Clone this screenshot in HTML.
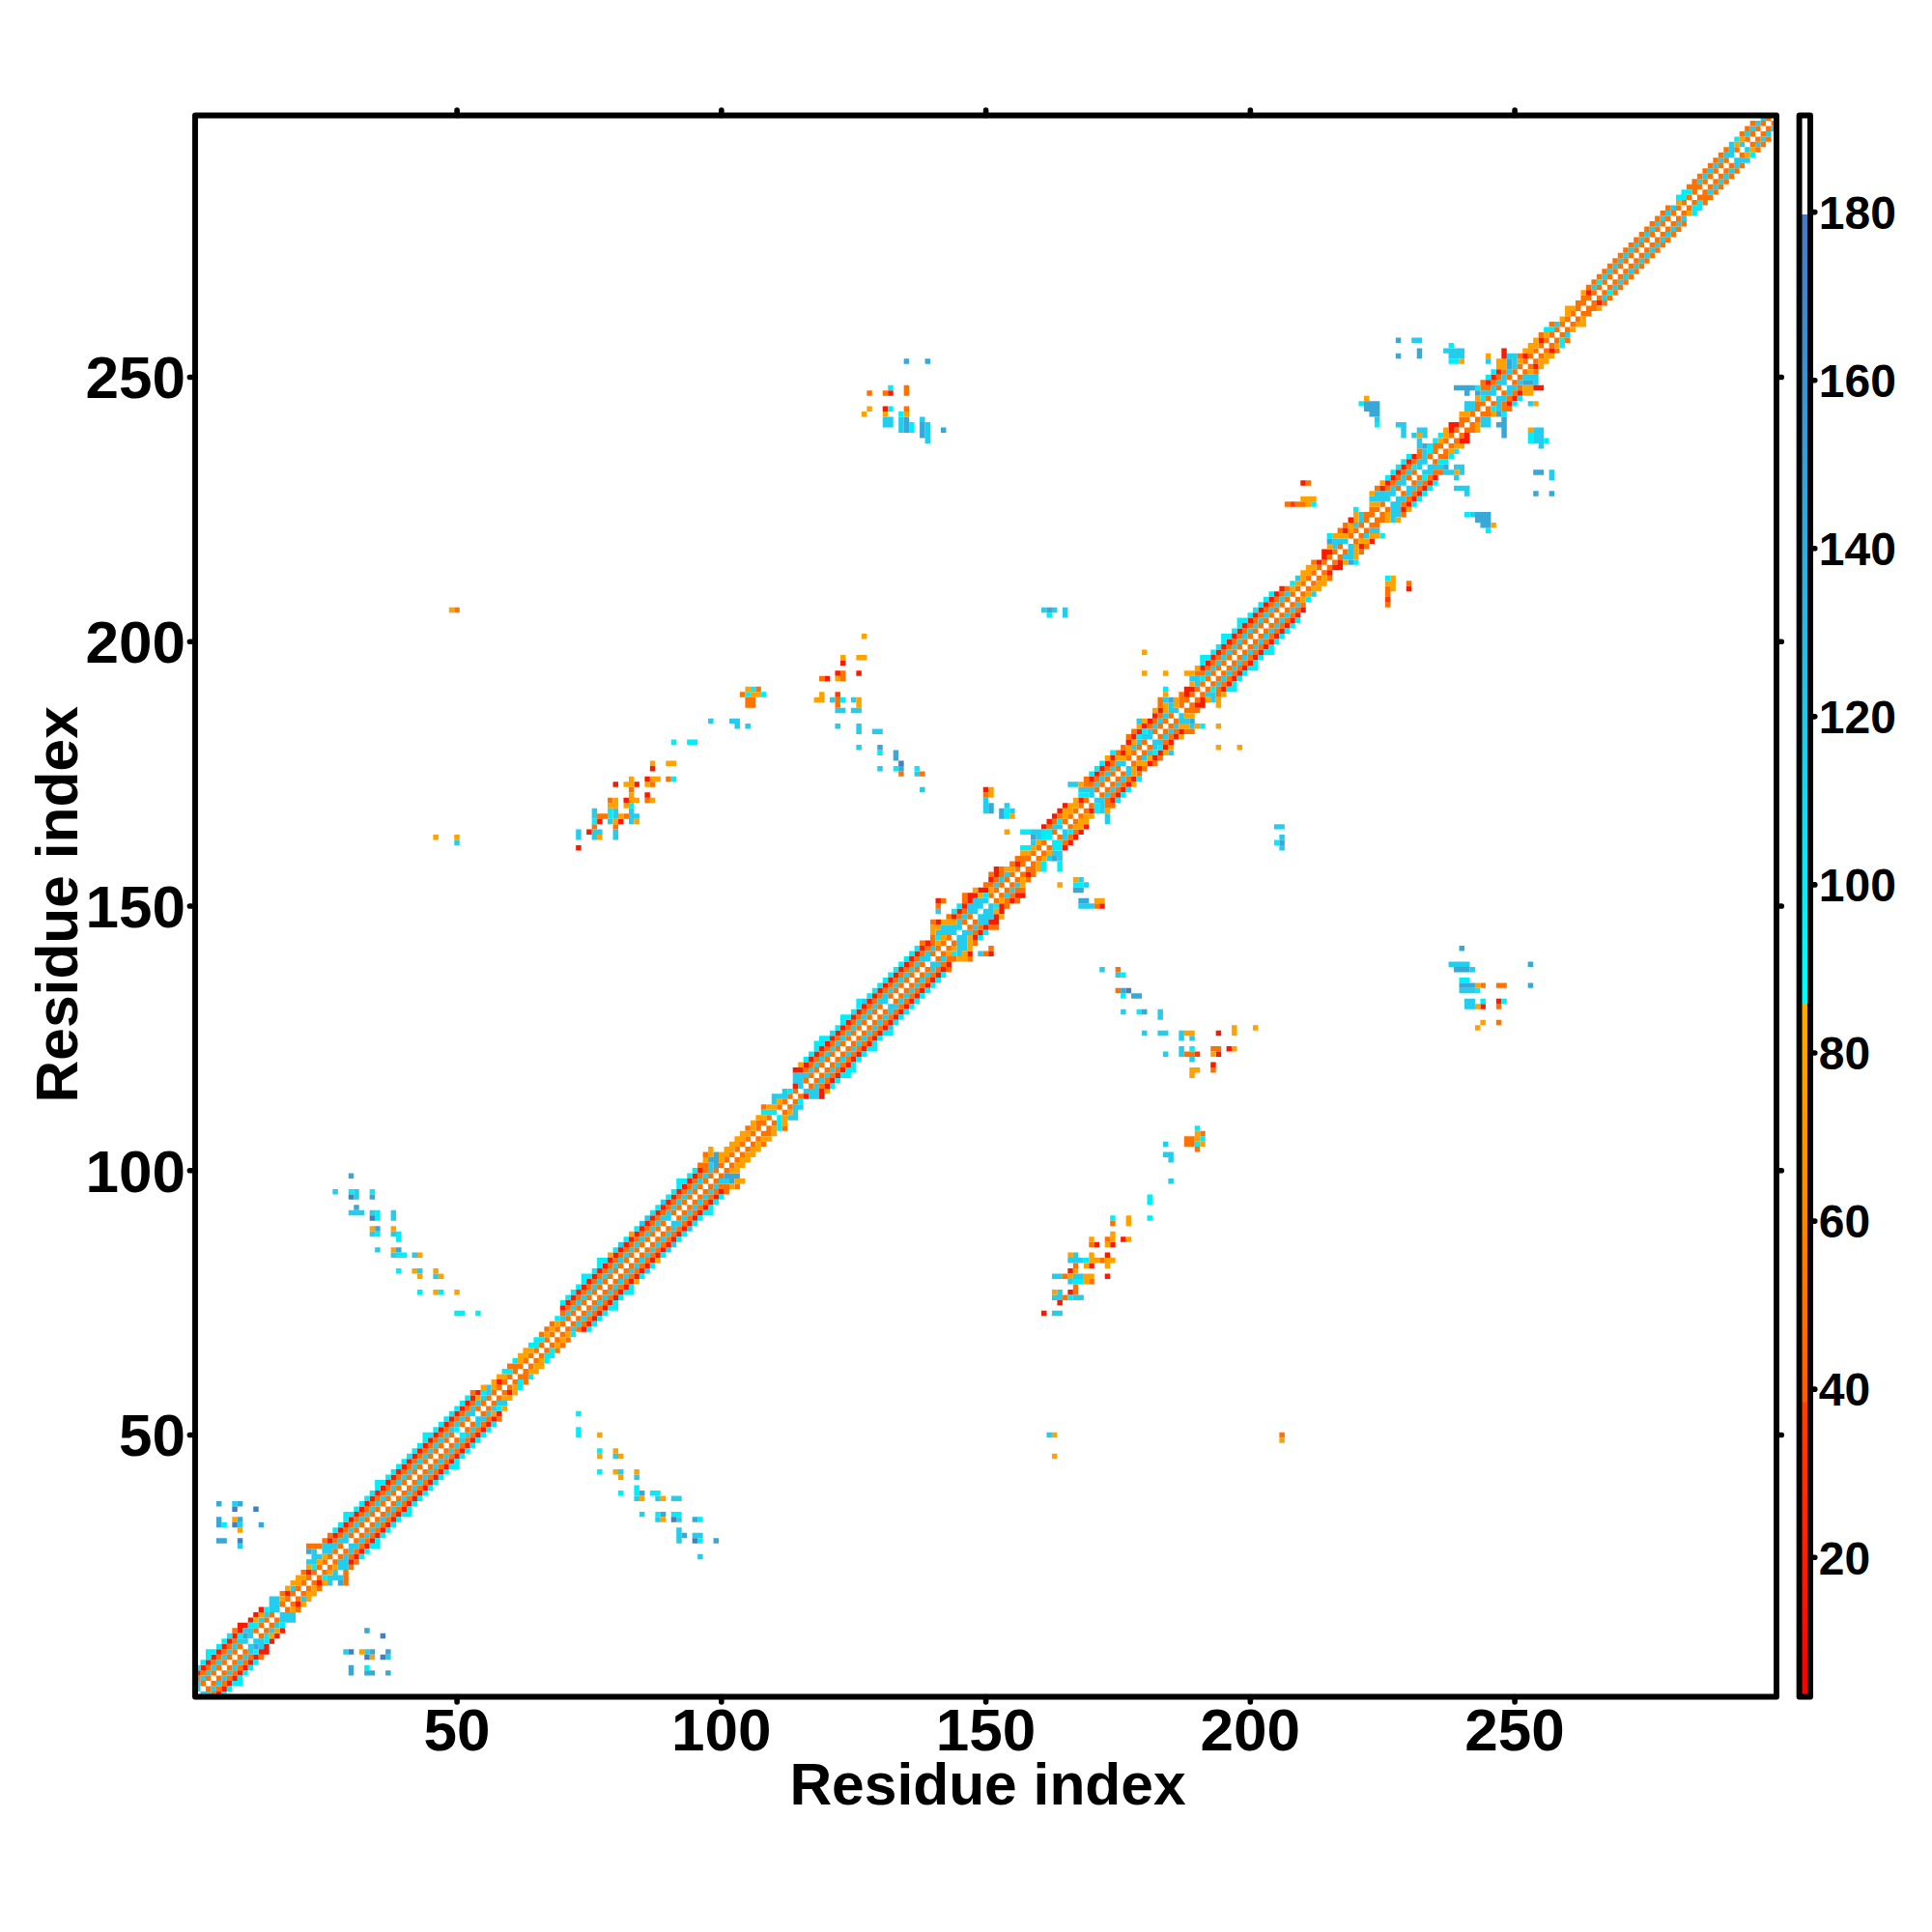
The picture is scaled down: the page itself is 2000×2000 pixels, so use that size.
<!DOCTYPE html><html><head><meta charset="utf-8"><style>html,body{margin:0;padding:0;background:#fff;overflow:hidden}svg{display:block}text{font-family:"Liberation Sans",sans-serif;font-weight:bold;fill:#000}</style></head><body>
<svg width="2000" height="2000" viewBox="0 0 2000 2000">
<rect width="2000" height="2000" fill="#fff"/>
<g transform="translate(202.000 1756.500) scale(5.4750 -5.4750)">
<path fill="#22cdee" d="M1 0h2v1h-2zM0 1h1v1h-1zM3 1h1v1h-1zM0 2h1v1h-1zM4 2h1v1h-1zM1 3h1v1h-1zM5 3h1v1h-1zM2 4h1v1h-1zM6 4h1v1h-1zM3 5h1v1h-1zM7 5h1v1h-1zM4 6h1v1h-1zM8 6h1v1h-1zM5 7h1v1h-1zM9 7h1v1h-1zM36 7h1v1h-1zM6 8h1v1h-1zM10 8h1v1h-1zM28 8h1v1h-1zM32 8h1v1h-1zM7 9h1v1h-1zM10 9h1v1h-1zM12 9h1v1h-1zM8 10h2v1h-2zM11 10h2v1h-2zM9 12h2v1h-2zM14 12h1v1h-1zM10 11h1v1h-1zM12 14h1v1h-1zM16 14h3v1h-3zM15 13h1v1h-1zM13 15h1v1h-1zM16 15h3v1h-3zM14 16h2v1h-2zM14 17h2v1h-2zM14 18h2v1h-2zM20 18h1v1h-1zM18 20h1v1h-1zM25 21h1v1h-1zM21 25h2v1h-2zM27 25h2v1h-2zM25 22h3v1h-3zM22 26h2v1h-2zM28 26h1v1h-1zM95 26h1v1h-1zM22 27h1v1h-1zM24 27h2v1h-2zM29 27h1v1h-1zM26 23h1v1h-1zM27 24h2v1h-2zM8 28h1v1h-1zM24 28h3v1h-3zM29 28h2v1h-2zM27 29h2v1h-2zM31 29h1v1h-1zM91 29h1v1h-1zM28 30h1v1h-1zM32 30h1v1h-1zM91 30h1v1h-1zM94 30h2v1h-2zM29 31h1v1h-1zM33 31h1v1h-1zM91 31h1v1h-1zM8 32h1v1h-1zM30 32h1v1h-1zM34 32h1v1h-1zM31 33h1v1h-1zM35 33h1v1h-1zM87 33h1v1h-1zM91 33h1v1h-1zM32 34h1v1h-1zM36 34h1v1h-1zM84 34h1v1h-1zM33 35h1v1h-1zM37 35h1v1h-1zM7 36h1v1h-1zM34 36h1v1h-1zM38 36h1v1h-1zM35 37h1v1h-1zM39 37h1v1h-1zM83 37h1v1h-1zM87 37h1v1h-1zM90 37h2v1h-2zM36 38h1v1h-1zM40 38h1v1h-1zM37 39h1v1h-1zM41 39h1v1h-1zM38 40h1v1h-1zM42 40h1v1h-1zM39 41h1v1h-1zM43 41h1v1h-1zM83 41h1v1h-1zM40 42h1v1h-1zM44 42h1v1h-1zM80 42h1v1h-1zM41 43h1v1h-1zM45 43h1v1h-1zM42 44h1v1h-1zM46 44h1v1h-1zM43 45h1v1h-1zM47 45h1v1h-1zM79 45h1v1h-1zM44 46h1v1h-1zM48 46h1v1h-1zM45 47h1v1h-1zM49 47h1v1h-1zM46 48h1v1h-1zM50 48h1v1h-1zM47 49h1v1h-1zM51 49h1v1h-1zM161 49h1v1h-1zM48 50h1v1h-1zM52 50h1v1h-1zM49 51h1v1h-1zM53 51h1v1h-1zM50 52h1v1h-1zM53 52h2v1h-2zM51 53h2v1h-2zM55 53h1v1h-1zM52 54h1v1h-1zM56 54h1v1h-1zM53 55h1v1h-1zM57 55h2v1h-2zM54 56h1v1h-1zM55 57h1v1h-1zM55 58h1v1h-1zM71 69h1v1h-1zM69 71h1v1h-1zM73 71h1v1h-1zM72 70h1v1h-1zM70 72h1v1h-1zM74 72h1v1h-1zM162 72h2v1h-2zM71 73h1v1h-1zM75 73h1v1h-1zM72 74h1v1h-1zM76 74h1v1h-1zM73 75h1v1h-1zM77 75h1v1h-1zM162 75h2v1h-2zM166 75h2v1h-2zM74 76h1v1h-1zM78 76h1v1h-1zM163 76h1v1h-1zM75 77h1v1h-1zM79 77h1v1h-1zM76 78h1v1h-1zM80 78h1v1h-1zM165 78h1v1h-1zM45 79h1v1h-1zM77 79h1v1h-1zM81 79h1v1h-1zM162 79h2v1h-2zM166 79h2v1h-2zM42 80h1v1h-1zM78 80h1v1h-1zM82 80h1v1h-1zM85 80h1v1h-1zM79 81h1v1h-1zM83 81h1v1h-1zM80 82h1v1h-1zM84 82h1v1h-1zM165 82h3v1h-3zM80 85h1v1h-1zM83 85h1v1h-1zM87 85h1v1h-1zM90 85h1v1h-1zM37 83h1v1h-1zM41 83h1v1h-1zM81 83h1v1h-1zM85 83h1v1h-1zM166 83h1v1h-1zM34 84h1v1h-1zM82 84h1v1h-1zM86 84h1v1h-1zM89 84h1v1h-1zM84 86h1v1h-1zM88 86h1v1h-1zM84 89h1v1h-1zM87 89h1v1h-1zM90 89h2v1h-2zM33 87h1v1h-1zM37 87h1v1h-1zM85 87h1v1h-1zM89 87h1v1h-1zM37 90h1v1h-1zM85 90h1v1h-1zM88 90h2v1h-2zM92 90h1v1h-1zM86 88h1v1h-1zM90 88h1v1h-1zM93 88h1v1h-1zM88 93h1v1h-1zM91 93h1v1h-1zM95 93h1v1h-1zM29 91h3v1h-3zM33 91h1v1h-1zM37 91h1v1h-1zM89 91h1v1h-1zM93 91h1v1h-1zM90 92h1v1h-1zM94 92h1v1h-1zM30 94h1v1h-1zM92 94h1v1h-1zM96 94h1v1h-1zM26 95h1v1h-1zM30 95h1v1h-1zM93 95h1v1h-1zM97 95h1v1h-1zM94 96h1v1h-1zM98 96h1v1h-1zM95 97h1v1h-1zM99 97h2v1h-2zM184 97h1v1h-1zM96 98h1v1h-1zM97 99h1v1h-1zM97 100h1v1h-1zM112 109h2v1h-2zM109 112h1v1h-1zM109 113h3v1h-3zM116 113h2v1h-2zM113 110h1v1h-1zM113 111h2v1h-2zM111 114h1v1h-1zM115 114h3v1h-3zM113 116h2v1h-2zM118 116h1v1h-1zM113 117h3v1h-3zM119 117h1v1h-1zM114 115h1v1h-1zM117 115h1v1h-1zM116 118h1v1h-1zM120 118h1v1h-1zM117 119h1v1h-1zM121 119h1v1h-1zM118 120h1v1h-1zM122 120h1v1h-1zM188 120h1v1h-1zM119 121h1v1h-1zM123 121h1v1h-1zM183 121h1v1h-1zM186 121h1v1h-1zM120 122h1v1h-1zM124 122h1v1h-1zM186 122h1v1h-1zM121 123h1v1h-1zM125 123h1v1h-1zM122 124h1v1h-1zM126 124h1v1h-1zM186 124h1v1h-1zM188 124h1v1h-1zM123 125h1v1h-1zM127 125h1v1h-1zM179 125h1v1h-1zM182 125h2v1h-2zM186 125h1v1h-1zM124 126h1v1h-1zM128 126h1v1h-1zM131 126h1v1h-1zM125 127h1v1h-1zM129 127h1v1h-1zM126 128h1v1h-1zM130 128h1v1h-1zM182 128h1v1h-1zM126 131h1v1h-1zM129 131h2v1h-2zM133 131h1v1h-1zM240 131h2v1h-2zM127 129h1v1h-1zM131 129h1v1h-1zM175 129h1v1h-1zM182 129h1v1h-1zM128 130h1v1h-1zM131 130h2v1h-2zM240 130h2v1h-2zM130 132h1v1h-1zM134 132h1v1h-1zM131 133h1v1h-1zM135 133h1v1h-1zM239 133h3v1h-3zM132 134h1v1h-1zM136 134h1v1h-1zM133 135h1v1h-1zM137 135h1v1h-1zM134 136h1v1h-1zM138 136h1v1h-1zM174 136h1v1h-1zM135 137h1v1h-1zM139 137h1v1h-1zM171 137h1v1h-1zM241 137h1v1h-1zM136 138h1v1h-1zM139 138h2v1h-2zM237 138h4v1h-4zM137 139h2v1h-2zM141 139h1v1h-1zM138 140h1v1h-1zM144 140h1v1h-1zM148 140h1v1h-1zM139 141h1v1h-1zM144 141h2v1h-2zM140 144h4v1h-4zM145 144h2v1h-2zM140 148h1v1h-1zM146 148h2v1h-2zM149 148h2v1h-2zM141 145h4v1h-4zM147 145h1v1h-1zM144 142h2v1h-2zM144 143h2v1h-2zM144 146h1v1h-1zM148 146h2v1h-2zM145 147h1v1h-1zM148 147h3v1h-3zM146 149h3v1h-3zM150 149h1v1h-1zM167 149h3v1h-3zM147 150h3v1h-3zM153 151h1v1h-1zM151 153h1v1h-1zM155 153h1v1h-1zM168 153h1v1h-1zM154 152h1v1h-1zM152 154h1v1h-1zM167 154h1v1h-1zM153 155h1v1h-1zM161 158h1v1h-1zM163 158h1v1h-1zM49 161h1v1h-1zM158 161h1v1h-1zM72 163h1v1h-1zM75 163h2v1h-2zM79 163h1v1h-1zM158 163h2v1h-2zM164 163h1v1h-1zM162 159h2v1h-2zM72 162h1v1h-1zM75 162h1v1h-1zM79 162h1v1h-1zM159 162h1v1h-1zM164 162h1v1h-1zM205 162h1v1h-1zM162 164h2v1h-2zM204 164h2v1h-2zM75 167h1v1h-1zM79 167h1v1h-1zM82 167h1v1h-1zM149 167h1v1h-1zM154 167h1v1h-1zM171 167h1v1h-1zM137 171h1v1h-1zM167 171h3v1h-3zM173 171h1v1h-1zM149 168h1v1h-1zM153 168h1v1h-1zM171 168h1v1h-1zM149 169h1v1h-1zM170 169h2v1h-2zM169 170h1v1h-1zM172 170h1v1h-1zM165 172h2v1h-2zM170 172h1v1h-1zM174 172h1v1h-1zM171 173h1v1h-1zM175 173h1v1h-1zM136 174h1v1h-1zM172 174h1v1h-1zM176 174h1v1h-1zM129 175h1v1h-1zM173 175h1v1h-1zM176 175h1v1h-1zM174 176h2v1h-2zM179 177h1v1h-1zM125 179h1v1h-1zM177 179h1v1h-1zM181 179h1v1h-1zM180 178h1v1h-1zM184 178h1v1h-1zM178 180h1v1h-1zM181 180h2v1h-2zM97 184h1v1h-1zM101 184h2v1h-2zM178 184h1v1h-1zM182 184h1v1h-1zM186 184h2v1h-2zM179 181h2v1h-2zM183 181h1v1h-1zM125 182h1v1h-1zM128 182h2v1h-2zM180 182h1v1h-1zM184 182h1v1h-1zM102 183h1v1h-1zM104 183h1v1h-1zM121 183h1v1h-1zM125 183h1v1h-1zM181 183h1v1h-1zM185 183h1v1h-1zM188 183h1v1h-1zM183 185h1v1h-1zM186 185h1v1h-1zM120 188h1v1h-1zM124 188h1v1h-1zM183 188h1v1h-1zM192 188h1v1h-1zM121 186h2v1h-2zM124 186h2v1h-2zM184 186h2v1h-2zM184 187h1v1h-1zM188 192h2v1h-2zM194 192h1v1h-1zM191 189h2v1h-2zM189 191h1v1h-1zM193 191h1v1h-1zM191 193h1v1h-1zM195 193h1v1h-1zM192 194h1v1h-1zM196 194h1v1h-1zM193 195h1v1h-1zM197 195h1v1h-1zM194 196h1v1h-1zM198 196h1v1h-1zM195 197h1v1h-1zM199 197h1v1h-1zM196 198h1v1h-1zM200 198h1v1h-1zM197 199h1v1h-1zM201 199h1v1h-1zM198 200h1v1h-1zM202 200h1v1h-1zM199 201h1v1h-1zM203 201h1v1h-1zM200 202h1v1h-1zM204 202h1v1h-1zM201 203h1v1h-1zM205 203h1v1h-1zM164 204h1v1h-1zM202 204h1v1h-1zM206 204h1v1h-1zM160 205h1v1h-1zM162 205h1v1h-1zM164 205h1v1h-1zM203 205h1v1h-1zM207 205h1v1h-1zM204 206h1v1h-1zM208 206h1v1h-1zM205 207h1v1h-1zM206 208h1v1h-1zM211 208h1v1h-1zM208 211h1v1h-1zM217 215h2v1h-2zM215 217h1v1h-1zM218 217h1v1h-1zM215 218h3v1h-3zM218 216h1v1h-1zM221 219h1v1h-1zM219 221h1v1h-1zM222 220h2v1h-2zM220 222h1v1h-1zM226 222h1v1h-1zM220 223h1v1h-1zM226 223h2v1h-2zM241 223h1v1h-1zM222 226h4v1h-4zM227 226h2v1h-2zM223 227h4v1h-4zM229 227h1v1h-1zM240 227h1v1h-1zM226 224h2v1h-2zM226 225h2v1h-2zM226 228h1v1h-1zM229 228h2v1h-2zM238 228h3v1h-3zM227 229h2v1h-2zM231 229h1v1h-1zM228 230h1v1h-1zM238 230h1v1h-1zM256 230h1v1h-1zM229 231h1v1h-1zM232 231h2v1h-2zM236 231h2v1h-2zM239 231h1v1h-1zM256 231h1v1h-1zM138 238h1v1h-1zM228 238h1v1h-1zM230 238h1v1h-1zM232 238h1v1h-1zM253 238h2v1h-2zM231 232h1v1h-1zM233 232h3v1h-3zM238 232h2v1h-2zM231 233h2v1h-2zM231 236h1v1h-1zM254 236h1v1h-1zM138 237h1v1h-1zM231 237h1v1h-1zM253 237h2v1h-2zM133 239h1v1h-1zM138 239h1v1h-1zM228 239h1v1h-1zM231 239h2v1h-2zM253 239h2v1h-2zM232 234h1v1h-1zM232 235h1v1h-1zM130 240h2v1h-2zM133 240h1v1h-1zM138 240h1v1h-1zM227 240h2v1h-2zM243 240h2v1h-2zM240 243h2v1h-2zM246 243h1v1h-1zM240 244h2v1h-2zM246 244h1v1h-1zM252 244h1v1h-1zM130 241h2v1h-2zM133 241h1v1h-1zM137 241h1v1h-1zM223 241h1v1h-1zM243 241h2v1h-2zM243 246h3v1h-3zM248 246h1v1h-1zM244 252h1v1h-1zM249 252h1v1h-1zM246 245h2v1h-2zM245 247h1v1h-1zM248 247h2v1h-2zM246 248h2v1h-2zM250 248h1v1h-1zM253 248h1v1h-1zM247 249h1v1h-1zM251 249h3v1h-3zM248 250h1v1h-1zM237 253h3v1h-3zM248 253h2v1h-2zM249 251h1v1h-1zM259 257h1v1h-1zM257 259h1v1h-1zM266 264h1v1h-1zM264 266h1v1h-1zM268 266h1v1h-1zM266 268h1v1h-1zM270 268h1v1h-1zM269 267h1v1h-1zM267 269h1v1h-1zM271 269h1v1h-1zM268 270h1v1h-1zM272 270h1v1h-1zM269 271h1v1h-1zM273 271h1v1h-1zM270 272h1v1h-1zM274 272h1v1h-1zM271 273h1v1h-1zM275 273h1v1h-1zM272 274h1v1h-1zM276 274h1v1h-1zM273 275h1v1h-1zM277 275h1v1h-1zM274 276h1v1h-1zM278 276h1v1h-1zM275 277h1v1h-1zM279 277h1v1h-1zM276 278h1v1h-1zM280 278h1v1h-1zM277 279h1v1h-1zM281 279h1v1h-1zM278 280h1v1h-1zM279 281h1v1h-1zM286 284h1v1h-1zM284 286h1v1h-1zM288 286h1v1h-1zM287 285h1v1h-1zM285 287h1v1h-1zM289 287h1v1h-1zM286 288h1v1h-1zM290 288h1v1h-1zM287 289h1v1h-1zM291 289h1v1h-1zM288 290h1v1h-1zM291 290h3v1h-3zM289 291h2v1h-2zM290 292h1v1h-1zM293 292h1v1h-1zM290 293h1v1h-1zM292 293h1v1h-1zM295 293h1v1h-1zM293 295h1v1h-1zM297 295h1v1h-1zM296 294h1v1h-1zM294 296h1v1h-1zM298 296h1v1h-1zM295 297h1v1h-1zM296 298h1v1h-1zM78 165h1v1h-1zM82 165h1v1h-1zM172 165h1v1h-1zM75 166h1v1h-1zM79 166h1v1h-1zM82 166h2v1h-2zM172 166h1v1h-1zM230 256h2v1h-2zM236 254h4v1h-4zM184 101h1v1h-1zM183 102h2v1h-2zM183 104h1v1h-1zM205 160h1v1h-1z"/>
<path fill="#ff7200" d="M3 0h1v1h-1zM0 3h1v1h-1zM2 3h1v1h-1zM4 3h1v1h-1zM6 3h1v1h-1zM2 1h1v1h-1zM4 1h1v1h-1zM1 2h1v1h-1zM3 2h1v1h-1zM5 2h1v1h-1zM1 4h1v1h-1zM3 4h1v1h-1zM5 4h1v1h-1zM7 4h1v1h-1zM2 5h1v1h-1zM4 5h1v1h-1zM6 5h1v1h-1zM8 5h1v1h-1zM3 6h1v1h-1zM5 6h1v1h-1zM7 6h1v1h-1zM9 6h1v1h-1zM4 7h1v1h-1zM6 7h1v1h-1zM8 7h1v1h-1zM10 7h1v1h-1zM12 7h1v1h-1zM5 8h1v1h-1zM7 8h1v1h-1zM9 8h1v1h-1zM6 9h1v1h-1zM8 9h1v1h-1zM7 10h1v1h-1zM7 12h1v1h-1zM11 12h1v1h-1zM13 12h1v1h-1zM12 11h1v1h-1zM12 13h1v1h-1zM14 13h1v1h-1zM13 14h1v1h-1zM15 14h1v1h-1zM14 15h1v1h-1zM17 16h1v1h-1zM19 16h1v1h-1zM16 17h1v1h-1zM18 17h1v1h-1zM16 19h1v1h-1zM18 19h1v1h-1zM20 19h1v1h-1zM17 18h1v1h-1zM19 18h1v1h-1zM19 20h1v1h-1zM21 20h1v1h-1zM23 20h1v1h-1zM20 21h1v1h-1zM22 21h1v1h-1zM28 21h1v1h-1zM20 23h1v1h-1zM22 23h1v1h-1zM24 23h1v1h-1zM28 23h1v1h-1zM21 22h1v1h-1zM23 22h1v1h-1zM28 22h1v1h-1zM21 28h3v1h-3zM27 28h1v1h-1zM31 28h1v1h-1zM23 24h1v1h-1zM25 24h1v1h-1zM29 24h1v1h-1zM24 25h1v1h-1zM26 25h1v1h-1zM30 25h1v1h-1zM24 29h1v1h-1zM26 29h1v1h-1zM30 29h1v1h-1zM32 29h1v1h-1zM25 26h1v1h-1zM27 26h1v1h-1zM29 26h1v1h-1zM25 30h1v1h-1zM27 30h1v1h-1zM29 30h1v1h-1zM31 30h1v1h-1zM33 30h1v1h-1zM26 27h1v1h-1zM28 27h1v1h-1zM30 27h1v1h-1zM28 31h1v1h-1zM30 31h1v1h-1zM32 31h1v1h-1zM34 31h1v1h-1zM29 32h1v1h-1zM31 32h1v1h-1zM33 32h1v1h-1zM35 32h1v1h-1zM30 33h1v1h-1zM32 33h1v1h-1zM34 33h1v1h-1zM36 33h1v1h-1zM31 34h1v1h-1zM33 34h1v1h-1zM35 34h1v1h-1zM37 34h1v1h-1zM32 35h1v1h-1zM34 35h1v1h-1zM36 35h1v1h-1zM38 35h1v1h-1zM33 36h1v1h-1zM35 36h1v1h-1zM37 36h1v1h-1zM39 36h1v1h-1zM34 37h1v1h-1zM36 37h1v1h-1zM38 37h1v1h-1zM40 37h1v1h-1zM35 38h1v1h-1zM37 38h1v1h-1zM39 38h1v1h-1zM41 38h1v1h-1zM36 39h1v1h-1zM38 39h1v1h-1zM40 39h1v1h-1zM42 39h1v1h-1zM37 40h1v1h-1zM39 40h1v1h-1zM41 40h1v1h-1zM43 40h1v1h-1zM38 41h1v1h-1zM40 41h1v1h-1zM42 41h1v1h-1zM44 41h1v1h-1zM39 42h1v1h-1zM41 42h1v1h-1zM43 42h1v1h-1zM45 42h1v1h-1zM40 43h1v1h-1zM42 43h1v1h-1zM44 43h1v1h-1zM46 43h1v1h-1zM41 44h1v1h-1zM43 44h1v1h-1zM45 44h1v1h-1zM47 44h1v1h-1zM42 45h1v1h-1zM44 45h1v1h-1zM46 45h1v1h-1zM48 45h1v1h-1zM43 46h1v1h-1zM45 46h1v1h-1zM47 46h1v1h-1zM49 46h1v1h-1zM44 47h1v1h-1zM46 47h1v1h-1zM48 47h1v1h-1zM50 47h1v1h-1zM45 48h1v1h-1zM47 48h1v1h-1zM49 48h1v1h-1zM51 48h1v1h-1zM46 49h1v1h-1zM48 49h1v1h-1zM52 49h1v1h-1zM205 49h1v1h-1zM47 50h1v1h-1zM51 50h1v1h-1zM53 50h1v1h-1zM48 51h1v1h-1zM50 51h1v1h-1zM52 51h1v1h-1zM54 51h1v1h-1zM49 52h1v1h-1zM51 52h1v1h-1zM55 52h1v1h-1zM57 52h1v1h-1zM50 53h1v1h-1zM54 53h1v1h-1zM51 54h1v1h-1zM53 54h1v1h-1zM55 54h1v1h-1zM52 55h1v1h-1zM54 55h1v1h-1zM56 55h1v1h-1zM52 57h1v1h-1zM56 57h1v1h-1zM58 57h1v1h-1zM55 56h1v1h-1zM57 56h1v1h-1zM57 58h1v1h-1zM59 58h1v1h-1zM58 59h1v1h-1zM60 59h1v1h-1zM62 59h1v1h-1zM59 60h1v1h-1zM61 60h2v1h-2zM59 62h3v1h-3zM63 62h1v1h-1zM60 61h1v1h-1zM62 61h1v1h-1zM62 63h1v1h-1zM64 63h1v1h-1zM63 64h1v1h-1zM65 64h1v1h-1zM64 65h1v1h-1zM66 65h1v1h-1zM68 65h1v1h-1zM65 66h1v1h-1zM67 66h1v1h-1zM69 66h1v1h-1zM65 68h1v1h-1zM67 68h1v1h-1zM69 68h1v1h-1zM66 67h1v1h-1zM68 67h1v1h-1zM70 67h1v1h-1zM66 69h1v1h-1zM68 69h1v1h-1zM70 69h1v1h-1zM72 69h1v1h-1zM67 70h1v1h-1zM69 70h1v1h-1zM71 70h1v1h-1zM73 70h1v1h-1zM69 72h1v1h-1zM71 72h1v1h-1zM73 72h1v1h-1zM75 72h1v1h-1zM70 71h1v1h-1zM72 71h1v1h-1zM74 71h1v1h-1zM70 73h1v1h-1zM72 73h1v1h-1zM74 73h1v1h-1zM76 73h1v1h-1zM71 74h1v1h-1zM73 74h1v1h-1zM75 74h1v1h-1zM77 74h1v1h-1zM72 75h1v1h-1zM74 75h1v1h-1zM76 75h1v1h-1zM78 75h1v1h-1zM164 75h1v1h-1zM73 76h1v1h-1zM75 76h1v1h-1zM77 76h1v1h-1zM79 76h1v1h-1zM166 76h1v1h-1zM74 77h1v1h-1zM76 77h1v1h-1zM78 77h1v1h-1zM80 77h1v1h-1zM166 77h1v1h-1zM75 78h1v1h-1zM77 78h1v1h-1zM79 78h1v1h-1zM81 78h1v1h-1zM169 78h1v1h-1zM76 79h1v1h-1zM78 79h1v1h-1zM80 79h1v1h-1zM82 79h1v1h-1zM164 79h1v1h-1zM77 80h1v1h-1zM79 80h1v1h-1zM81 80h1v1h-1zM83 80h1v1h-1zM78 81h1v1h-1zM80 81h1v1h-1zM82 81h1v1h-1zM84 81h1v1h-1zM166 81h1v1h-1zM79 82h1v1h-1zM81 82h1v1h-1zM83 82h1v1h-1zM85 82h1v1h-1zM171 82h1v1h-1zM80 83h1v1h-1zM82 83h1v1h-1zM84 83h1v1h-1zM86 83h1v1h-1zM81 84h1v1h-1zM83 84h1v1h-1zM85 84h1v1h-1zM87 84h1v1h-1zM82 85h1v1h-1zM84 85h1v1h-1zM86 85h1v1h-1zM88 85h1v1h-1zM169 85h1v1h-1zM83 86h1v1h-1zM85 86h1v1h-1zM87 86h1v1h-1zM89 86h1v1h-1zM172 86h1v1h-1zM84 87h1v1h-1zM86 87h1v1h-1zM88 87h1v1h-1zM90 87h1v1h-1zM85 88h1v1h-1zM87 88h1v1h-1zM89 88h1v1h-1zM91 88h1v1h-1zM86 89h1v1h-1zM88 89h1v1h-1zM92 89h1v1h-1zM173 89h1v1h-1zM87 90h1v1h-1zM91 90h1v1h-1zM93 90h1v1h-1zM88 91h1v1h-1zM90 91h1v1h-1zM92 91h1v1h-1zM94 91h1v1h-1zM89 92h1v1h-1zM91 92h1v1h-1zM93 92h1v1h-1zM95 92h1v1h-1zM90 93h1v1h-1zM92 93h1v1h-1zM94 93h1v1h-1zM96 93h1v1h-1zM91 94h1v1h-1zM93 94h1v1h-1zM95 94h1v1h-1zM97 94h1v1h-1zM92 95h1v1h-1zM94 95h1v1h-1zM96 95h1v1h-1zM98 95h1v1h-1zM100 95h1v1h-1zM93 96h1v1h-1zM95 96h1v1h-1zM97 96h1v1h-1zM99 96h2v1h-2zM102 96h1v1h-1zM94 97h1v1h-1zM96 97h1v1h-1zM98 97h1v1h-1zM95 98h1v1h-1zM97 98h1v1h-1zM99 98h1v1h-1zM95 100h2v1h-2zM99 100h1v1h-1zM101 100h1v1h-1zM96 99h1v1h-1zM98 99h1v1h-1zM100 99h1v1h-1zM96 102h1v1h-1zM101 102h1v1h-1zM103 102h1v1h-1zM100 101h1v1h-1zM102 101h1v1h-1zM102 103h1v1h-1zM104 103h1v1h-1zM189 103h1v1h-1zM103 104h1v1h-1zM105 104h1v1h-1zM107 104h1v1h-1zM187 104h2v1h-2zM104 105h1v1h-1zM106 105h1v1h-1zM187 105h2v1h-2zM104 107h1v1h-1zM106 107h1v1h-1zM108 107h1v1h-1zM111 107h1v1h-1zM105 106h1v1h-1zM107 106h2v1h-2zM190 106h1v1h-1zM106 108h2v1h-2zM109 108h1v1h-1zM107 111h1v1h-1zM110 111h1v1h-1zM112 111h1v1h-1zM108 109h1v1h-1zM111 110h1v1h-1zM111 112h1v1h-1zM113 112h1v1h-1zM112 113h1v1h-1zM114 113h1v1h-1zM113 114h1v1h-1zM116 115h1v1h-1zM118 115h1v1h-1zM115 116h1v1h-1zM117 116h1v1h-1zM119 116h1v1h-1zM115 118h1v1h-1zM117 118h1v1h-1zM119 118h1v1h-1zM121 118h1v1h-1zM192 118h1v1h-1zM116 117h1v1h-1zM118 117h1v1h-1zM120 117h1v1h-1zM116 119h1v1h-1zM118 119h1v1h-1zM120 119h1v1h-1zM122 119h1v1h-1zM117 120h1v1h-1zM119 120h1v1h-1zM121 120h1v1h-1zM123 120h1v1h-1zM118 121h1v1h-1zM120 121h1v1h-1zM122 121h1v1h-1zM124 121h1v1h-1zM187 121h2v1h-2zM119 122h1v1h-1zM121 122h1v1h-1zM123 122h1v1h-1zM125 122h1v1h-1zM192 122h2v1h-2zM120 123h1v1h-1zM122 123h1v1h-1zM124 123h1v1h-1zM126 123h1v1h-1zM121 124h1v1h-1zM123 124h1v1h-1zM125 124h1v1h-1zM127 124h1v1h-1zM122 125h1v1h-1zM124 125h1v1h-1zM126 125h1v1h-1zM128 125h1v1h-1zM123 126h1v1h-1zM125 126h1v1h-1zM127 126h1v1h-1zM129 126h1v1h-1zM124 127h1v1h-1zM126 127h1v1h-1zM128 127h1v1h-1zM130 127h1v1h-1zM246 127h1v1h-1zM125 128h1v1h-1zM127 128h1v1h-1zM129 128h1v1h-1zM131 128h1v1h-1zM126 129h1v1h-1zM128 129h1v1h-1zM130 129h1v1h-1zM132 129h1v1h-1zM127 130h1v1h-1zM129 130h1v1h-1zM133 130h1v1h-1zM246 130h1v1h-1zM128 131h1v1h-1zM132 131h1v1h-1zM134 131h1v1h-1zM129 132h1v1h-1zM131 132h1v1h-1zM133 132h1v1h-1zM135 132h1v1h-1zM130 133h1v1h-1zM132 133h1v1h-1zM134 133h1v1h-1zM136 133h1v1h-1zM174 133h1v1h-1zM131 134h1v1h-1zM133 134h1v1h-1zM135 134h1v1h-1zM137 134h1v1h-1zM243 134h1v1h-1zM246 134h2v1h-2zM132 135h1v1h-1zM134 135h1v1h-1zM136 135h1v1h-1zM138 135h1v1h-1zM133 136h1v1h-1zM135 136h1v1h-1zM137 136h1v1h-1zM139 136h1v1h-1zM134 137h1v1h-1zM136 137h1v1h-1zM138 137h1v1h-1zM140 137h1v1h-1zM142 137h1v1h-1zM174 137h1v1h-1zM135 138h1v1h-1zM137 138h1v1h-1zM141 138h1v1h-1zM136 139h1v1h-1zM140 139h1v1h-1zM142 139h2v1h-2zM146 139h1v1h-1zM137 140h1v1h-1zM139 140h1v1h-1zM141 140h1v1h-1zM149 140h1v1h-1zM137 142h1v1h-1zM139 142h1v1h-1zM141 142h1v1h-1zM143 142h1v1h-1zM147 142h1v1h-1zM138 141h1v1h-1zM140 141h1v1h-1zM142 141h1v1h-1zM150 141h1v1h-1zM139 143h1v1h-1zM142 143h1v1h-1zM139 146h1v1h-1zM145 146h1v1h-1zM147 146h1v1h-1zM140 149h1v1h-1zM153 149h1v1h-1zM170 149h1v1h-1zM141 150h1v1h-1zM145 150h1v1h-1zM151 150h1v1h-1zM153 150h1v1h-1zM155 150h1v1h-1zM142 147h1v1h-1zM144 147h1v1h-1zM146 147h1v1h-1zM147 144h1v1h-1zM146 145h1v1h-1zM148 145h1v1h-1zM150 145h2v1h-2zM145 148h1v1h-1zM145 151h1v1h-1zM150 151h1v1h-1zM152 151h1v1h-1zM154 151h1v1h-1zM149 153h2v1h-2zM152 153h1v1h-1zM154 153h1v1h-1zM150 155h1v1h-1zM152 155h1v1h-1zM154 155h1v1h-1zM156 155h1v1h-1zM158 155h1v1h-1zM151 152h1v1h-1zM153 152h1v1h-1zM155 152h2v1h-2zM151 154h1v1h-1zM153 154h1v1h-1zM155 154h1v1h-1zM157 154h1v1h-1zM152 156h1v1h-1zM155 156h1v1h-1zM157 156h2v1h-2zM154 157h1v1h-1zM156 157h1v1h-1zM158 157h1v1h-1zM155 158h3v1h-3zM159 158h1v1h-1zM158 159h1v1h-1zM160 159h1v1h-1zM159 160h1v1h-1zM161 160h1v1h-1zM160 161h1v1h-1zM164 161h1v1h-1zM75 164h1v1h-1zM79 164h1v1h-1zM161 164h1v1h-1zM165 164h1v1h-1zM163 162h1v1h-1zM165 162h1v1h-1zM162 163h1v1h-1zM166 163h1v1h-1zM162 165h1v1h-1zM164 165h1v1h-1zM166 165h1v1h-1zM76 166h2v1h-2zM81 166h1v1h-1zM163 166h1v1h-1zM165 166h1v1h-1zM167 166h1v1h-1zM166 167h1v1h-1zM168 167h1v1h-1zM167 168h1v1h-1zM169 168h1v1h-1zM172 168h2v1h-2zM78 169h1v1h-1zM85 169h1v1h-1zM168 169h1v1h-1zM172 169h1v1h-1zM86 172h1v1h-1zM168 172h2v1h-2zM171 172h1v1h-1zM173 172h1v1h-1zM175 172h1v1h-1zM89 173h1v1h-1zM168 173h1v1h-1zM170 173h1v1h-1zM172 173h1v1h-1zM174 173h1v1h-1zM176 173h1v1h-1zM149 170h1v1h-1zM171 170h1v1h-1zM173 170h1v1h-1zM82 171h1v1h-1zM170 171h1v1h-1zM172 171h1v1h-1zM174 171h1v1h-1zM133 174h1v1h-1zM137 174h1v1h-1zM171 174h1v1h-1zM173 174h1v1h-1zM175 174h1v1h-1zM178 174h1v1h-1zM172 175h1v1h-1zM174 175h1v1h-1zM179 175h1v1h-1zM173 176h1v1h-1zM177 176h1v1h-1zM181 176h1v1h-1zM174 178h1v1h-1zM177 178h1v1h-1zM179 178h1v1h-1zM175 179h1v1h-1zM178 179h1v1h-1zM180 179h1v1h-1zM176 177h1v1h-1zM178 177h1v1h-1zM182 177h1v1h-1zM176 181h1v1h-1zM182 181h1v1h-1zM184 181h1v1h-1zM177 182h1v1h-1zM181 182h1v1h-1zM183 182h1v1h-1zM185 182h1v1h-1zM187 182h2v1h-2zM179 180h1v1h-1zM183 180h1v1h-1zM180 183h1v1h-1zM182 183h1v1h-1zM184 183h1v1h-1zM181 184h1v1h-1zM183 184h1v1h-1zM185 184h1v1h-1zM182 185h1v1h-1zM184 185h1v1h-1zM104 187h2v1h-2zM121 187h1v1h-1zM182 187h1v1h-1zM186 187h1v1h-1zM188 187h1v1h-1zM104 188h2v1h-2zM121 188h1v1h-1zM182 188h1v1h-1zM186 188h2v1h-2zM189 188h1v1h-1zM187 186h3v1h-3zM103 189h1v1h-1zM186 189h1v1h-1zM188 189h1v1h-1zM190 189h1v1h-1zM193 189h1v1h-1zM106 190h1v1h-1zM189 190h1v1h-1zM191 190h1v1h-1zM193 190h1v1h-1zM122 193h1v1h-1zM189 193h2v1h-2zM192 193h1v1h-1zM194 193h1v1h-1zM196 193h1v1h-1zM190 191h1v1h-1zM192 191h1v1h-1zM194 191h1v1h-1zM118 192h1v1h-1zM122 192h1v1h-1zM191 192h1v1h-1zM193 192h1v1h-1zM195 192h1v1h-1zM191 194h1v1h-1zM193 194h1v1h-1zM195 194h1v1h-1zM197 194h1v1h-1zM192 195h1v1h-1zM194 195h1v1h-1zM196 195h1v1h-1zM198 195h1v1h-1zM193 196h1v1h-1zM195 196h1v1h-1zM197 196h1v1h-1zM199 196h1v1h-1zM194 197h1v1h-1zM196 197h1v1h-1zM198 197h1v1h-1zM200 197h1v1h-1zM195 198h1v1h-1zM197 198h1v1h-1zM199 198h1v1h-1zM201 198h1v1h-1zM196 199h1v1h-1zM198 199h1v1h-1zM200 199h1v1h-1zM202 199h1v1h-1zM197 200h1v1h-1zM199 200h1v1h-1zM201 200h1v1h-1zM203 200h1v1h-1zM198 201h1v1h-1zM200 201h1v1h-1zM202 201h1v1h-1zM204 201h1v1h-1zM199 202h1v1h-1zM201 202h1v1h-1zM203 202h1v1h-1zM205 202h1v1h-1zM200 203h1v1h-1zM202 203h1v1h-1zM204 203h1v1h-1zM206 203h1v1h-1zM201 204h1v1h-1zM203 204h1v1h-1zM205 204h1v1h-1zM207 204h1v1h-1zM49 205h1v1h-1zM202 205h1v1h-1zM204 205h1v1h-1zM206 205h1v1h-1zM208 205h1v1h-1zM203 206h1v1h-1zM205 206h1v1h-1zM207 206h1v1h-1zM209 206h1v1h-1zM225 206h1v1h-1zM204 207h1v1h-1zM206 207h1v1h-1zM208 207h1v1h-1zM205 208h1v1h-1zM207 208h1v1h-1zM209 208h1v1h-1zM225 208h1v1h-1zM206 209h1v1h-1zM208 209h1v1h-1zM210 209h1v1h-1zM225 209h1v1h-1zM209 210h1v1h-1zM211 210h1v1h-1zM229 210h1v1h-1zM210 211h1v1h-1zM212 211h1v1h-1zM214 211h1v1h-1zM211 212h1v1h-1zM213 212h1v1h-1zM211 214h1v1h-1zM213 214h1v1h-1zM215 214h1v1h-1zM212 213h1v1h-1zM214 213h1v1h-1zM214 215h1v1h-1zM216 215h1v1h-1zM215 216h1v1h-1zM217 216h1v1h-1zM220 216h1v1h-1zM216 217h1v1h-1zM221 217h1v1h-1zM216 220h1v1h-1zM219 220h1v1h-1zM221 220h1v1h-1zM217 221h1v1h-1zM220 221h1v1h-1zM222 221h2v1h-2zM219 218h1v1h-1zM218 219h1v1h-1zM220 219h1v1h-1zM221 222h1v1h-1zM223 222h2v1h-2zM221 223h2v1h-2zM224 223h1v1h-1zM228 223h1v1h-1zM222 224h2v1h-2zM225 224h1v1h-1zM223 228h1v1h-1zM225 228h1v1h-1zM227 228h1v1h-1zM231 228h1v1h-1zM206 225h1v1h-1zM208 225h2v1h-2zM224 225h1v1h-1zM228 225h1v1h-1zM229 226h1v1h-1zM210 229h1v1h-1zM226 229h1v1h-1zM230 229h1v1h-1zM232 229h1v1h-1zM228 227h1v1h-1zM230 227h1v1h-1zM227 230h1v1h-1zM229 230h1v1h-1zM231 230h1v1h-1zM233 230h1v1h-1zM228 231h1v1h-1zM230 231h1v1h-1zM234 231h2v1h-2zM229 232h1v1h-1zM230 233h1v1h-1zM234 233h1v1h-1zM231 234h1v1h-1zM233 234h1v1h-1zM235 234h2v1h-2zM231 235h1v1h-1zM234 235h1v1h-1zM236 235h1v1h-1zM234 236h2v1h-2zM237 236h1v1h-1zM236 237h1v1h-1zM238 237h1v1h-1zM237 238h1v1h-1zM239 238h1v1h-1zM238 239h1v1h-1zM240 239h2v1h-2zM239 240h1v1h-1zM241 240h1v1h-1zM239 241h2v1h-2zM242 241h1v1h-1zM241 242h1v1h-1zM243 242h2v1h-2zM134 243h1v1h-1zM242 243h1v1h-1zM244 243h1v1h-1zM247 243h2v1h-2zM242 244h2v1h-2zM245 244h1v1h-1zM247 244h1v1h-1zM134 247h1v1h-1zM243 247h2v1h-2zM246 247h1v1h-1zM250 247h1v1h-1zM243 248h1v1h-1zM245 248h1v1h-1zM249 248h1v1h-1zM244 245h1v1h-1zM248 245h1v1h-1zM127 246h1v1h-1zM130 246h1v1h-1zM134 246h1v1h-1zM247 246h1v1h-1zM249 246h1v1h-1zM246 249h1v1h-1zM248 249h1v1h-1zM250 249h1v1h-1zM247 250h1v1h-1zM249 250h1v1h-1zM251 250h1v1h-1zM253 250h1v1h-1zM250 251h1v1h-1zM252 251h1v1h-1zM250 253h1v1h-1zM252 253h1v1h-1zM254 253h1v1h-1zM251 252h1v1h-1zM253 252h1v1h-1zM253 254h1v1h-1zM255 254h1v1h-1zM257 254h1v1h-1zM254 255h1v1h-1zM256 255h1v1h-1zM254 257h1v1h-1zM256 257h1v1h-1zM258 257h1v1h-1zM255 256h1v1h-1zM257 256h1v1h-1zM259 256h1v1h-1zM256 259h1v1h-1zM258 259h1v1h-1zM260 259h1v1h-1zM257 258h1v1h-1zM259 258h1v1h-1zM259 260h1v1h-1zM261 260h1v1h-1zM260 261h1v1h-1zM262 261h2v1h-2zM261 262h1v1h-1zM263 262h2v1h-2zM261 263h2v1h-2zM264 263h1v1h-1zM266 263h1v1h-1zM262 264h2v1h-2zM265 264h1v1h-1zM267 264h1v1h-1zM263 266h1v1h-1zM265 266h1v1h-1zM267 266h1v1h-1zM269 266h1v1h-1zM264 265h1v1h-1zM266 265h1v1h-1zM268 265h1v1h-1zM264 267h1v1h-1zM266 267h1v1h-1zM268 267h1v1h-1zM270 267h1v1h-1zM265 268h1v1h-1zM267 268h1v1h-1zM269 268h1v1h-1zM271 268h1v1h-1zM266 269h1v1h-1zM268 269h1v1h-1zM270 269h1v1h-1zM272 269h1v1h-1zM267 270h1v1h-1zM269 270h1v1h-1zM271 270h1v1h-1zM273 270h1v1h-1zM268 271h1v1h-1zM270 271h1v1h-1zM272 271h1v1h-1zM274 271h1v1h-1zM269 272h1v1h-1zM271 272h1v1h-1zM273 272h1v1h-1zM275 272h1v1h-1zM270 273h1v1h-1zM272 273h1v1h-1zM274 273h1v1h-1zM276 273h1v1h-1zM271 274h1v1h-1zM273 274h1v1h-1zM275 274h1v1h-1zM277 274h1v1h-1zM272 275h1v1h-1zM274 275h1v1h-1zM276 275h1v1h-1zM278 275h1v1h-1zM273 276h1v1h-1zM275 276h1v1h-1zM277 276h1v1h-1zM279 276h1v1h-1zM274 277h1v1h-1zM276 277h1v1h-1zM278 277h1v1h-1zM280 277h1v1h-1zM275 278h1v1h-1zM277 278h1v1h-1zM279 278h1v1h-1zM281 278h1v1h-1zM276 279h1v1h-1zM278 279h1v1h-1zM280 279h1v1h-1zM277 280h1v1h-1zM279 280h1v1h-1zM281 280h1v1h-1zM278 281h1v1h-1zM280 281h1v1h-1zM282 281h1v1h-1zM281 282h1v1h-1zM283 282h1v1h-1zM285 282h1v1h-1zM282 283h1v1h-1zM284 283h3v1h-3zM282 285h3v1h-3zM286 285h1v1h-1zM288 285h1v1h-1zM283 284h1v1h-1zM285 284h1v1h-1zM287 284h1v1h-1zM283 286h1v1h-1zM285 286h1v1h-1zM287 286h1v1h-1zM289 286h1v1h-1zM284 287h1v1h-1zM286 287h1v1h-1zM288 287h1v1h-1zM290 287h1v1h-1zM285 288h1v1h-1zM287 288h1v1h-1zM289 288h1v1h-1zM291 288h1v1h-1zM286 289h1v1h-1zM288 289h1v1h-1zM290 289h1v1h-1zM292 289h1v1h-1zM287 290h1v1h-1zM289 290h1v1h-1zM288 291h1v1h-1zM292 291h1v1h-1zM289 292h1v1h-1zM291 292h1v1h-1zM295 292h1v1h-1zM292 295h1v1h-1zM294 295h1v1h-1zM296 295h1v1h-1zM294 293h1v1h-1zM296 293h1v1h-1zM293 294h1v1h-1zM295 294h1v1h-1zM297 294h1v1h-1zM293 296h1v1h-1zM295 296h1v1h-1zM297 296h1v1h-1zM294 297h1v1h-1zM296 297h1v1h-1zM298 297h1v1h-1zM297 298h1v1h-1z"/>
<path fill="#fa1a00" d="M4 0h1v1h-1zM0 4h1v1h-1zM8 4h1v1h-1zM5 1h1v1h-1zM1 5h1v1h-1zM9 5h1v1h-1zM6 2h1v1h-1zM2 6h1v1h-1zM10 6h1v1h-1zM7 3h1v1h-1zM3 7h1v1h-1zM11 7h1v1h-1zM4 8h1v1h-1zM12 8h2v1h-2zM5 9h1v1h-1zM13 9h1v1h-1zM6 10h1v1h-1zM14 10h1v1h-1zM7 11h1v1h-1zM15 11h1v1h-1zM8 12h1v1h-1zM16 12h1v1h-1zM8 13h2v1h-2zM10 14h1v1h-1zM11 15h1v1h-1zM12 16h1v1h-1zM19 17h1v1h-1zM17 19h1v1h-1zM23 21h1v1h-1zM21 23h1v1h-1zM29 25h1v1h-1zM25 29h1v1h-1zM33 29h1v1h-1zM30 26h1v1h-1zM26 30h1v1h-1zM34 30h1v1h-1zM31 27h1v1h-1zM27 31h1v1h-1zM35 31h1v1h-1zM32 28h1v1h-1zM28 32h1v1h-1zM36 32h1v1h-1zM29 33h1v1h-1zM37 33h1v1h-1zM30 34h1v1h-1zM38 34h1v1h-1zM31 35h1v1h-1zM39 35h1v1h-1zM32 36h1v1h-1zM40 36h1v1h-1zM33 37h1v1h-1zM41 37h1v1h-1zM34 38h1v1h-1zM42 38h1v1h-1zM35 39h1v1h-1zM43 39h1v1h-1zM36 40h1v1h-1zM44 40h1v1h-1zM37 41h1v1h-1zM45 41h1v1h-1zM38 42h1v1h-1zM46 42h1v1h-1zM39 43h1v1h-1zM47 43h1v1h-1zM40 44h1v1h-1zM48 44h1v1h-1zM41 45h1v1h-1zM49 45h1v1h-1zM42 46h1v1h-1zM50 46h1v1h-1zM43 47h1v1h-1zM51 47h1v1h-1zM44 48h1v1h-1zM52 48h1v1h-1zM45 49h1v1h-1zM53 49h1v1h-1zM46 50h1v1h-1zM54 50h1v1h-1zM47 51h1v1h-1zM55 51h1v1h-1zM48 52h1v1h-1zM56 52h1v1h-1zM49 53h1v1h-1zM57 53h1v1h-1zM50 54h1v1h-1zM51 55h1v1h-1zM52 56h1v1h-1zM53 57h1v1h-1zM59 57h1v1h-1zM57 59h1v1h-1zM73 69h1v1h-1zM69 73h1v1h-1zM77 73h1v1h-1zM74 70h1v1h-1zM70 74h1v1h-1zM78 74h1v1h-1zM163 74h1v1h-1zM75 71h1v1h-1zM71 75h1v1h-1zM79 75h1v1h-1zM76 72h1v1h-1zM160 72h1v1h-1zM72 76h1v1h-1zM80 76h1v1h-1zM165 76h1v1h-1zM73 77h1v1h-1zM81 77h1v1h-1zM74 78h1v1h-1zM82 78h1v1h-1zM75 79h1v1h-1zM83 79h1v1h-1zM172 79h1v1h-1zM76 80h1v1h-1zM84 80h1v1h-1zM165 80h1v1h-1zM77 81h1v1h-1zM85 81h1v1h-1zM169 81h1v1h-1zM78 82h1v1h-1zM86 82h1v1h-1zM79 83h1v1h-1zM87 83h1v1h-1zM172 83h1v1h-1zM80 84h1v1h-1zM88 84h1v1h-1zM81 85h1v1h-1zM89 85h1v1h-1zM170 85h1v1h-1zM173 85h1v1h-1zM82 86h1v1h-1zM90 86h1v1h-1zM175 86h1v1h-1zM83 87h1v1h-1zM91 87h1v1h-1zM84 88h1v1h-1zM92 88h1v1h-1zM85 89h1v1h-1zM93 89h1v1h-1zM86 90h1v1h-1zM94 90h1v1h-1zM87 91h1v1h-1zM95 91h1v1h-1zM88 92h1v1h-1zM96 92h1v1h-1zM89 93h1v1h-1zM97 93h1v1h-1zM90 94h1v1h-1zM98 94h1v1h-1zM91 95h1v1h-1zM99 95h1v1h-1zM92 96h1v1h-1zM93 97h1v1h-1zM94 98h1v1h-1zM95 99h1v1h-1zM115 113h1v1h-1zM118 113h1v1h-1zM113 115h1v1h-1zM119 115h1v1h-1zM113 118h2v1h-2zM122 118h1v1h-1zM118 114h1v1h-1zM115 119h1v1h-1zM123 119h1v1h-1zM192 119h1v1h-1zM120 116h1v1h-1zM116 120h1v1h-1zM124 120h1v1h-1zM121 117h1v1h-1zM117 121h1v1h-1zM125 121h1v1h-1zM193 121h1v1h-1zM118 122h1v1h-1zM126 122h1v1h-1zM195 122h1v1h-1zM119 123h1v1h-1zM127 123h1v1h-1zM120 124h1v1h-1zM128 124h1v1h-1zM121 125h1v1h-1zM129 125h1v1h-1zM193 125h1v1h-1zM122 126h1v1h-1zM130 126h1v1h-1zM123 127h1v1h-1zM131 127h1v1h-1zM124 128h1v1h-1zM132 128h1v1h-1zM125 129h1v1h-1zM133 129h1v1h-1zM126 130h1v1h-1zM134 130h1v1h-1zM243 130h1v1h-1zM127 131h1v1h-1zM135 131h1v1h-1zM246 131h1v1h-1zM128 132h1v1h-1zM136 132h1v1h-1zM129 133h1v1h-1zM137 133h1v1h-1zM130 134h1v1h-1zM138 134h1v1h-1zM131 135h1v1h-1zM139 135h1v1h-1zM132 136h1v1h-1zM140 136h1v1h-1zM133 137h1v1h-1zM141 137h1v1h-1zM134 138h1v1h-1zM142 138h1v1h-1zM135 139h1v1h-1zM136 140h1v1h-1zM146 140h1v1h-1zM150 140h1v1h-1zM137 141h1v1h-1zM138 142h1v1h-1zM140 146h1v1h-1zM150 146h2v1h-2zM140 150h1v1h-1zM146 150h1v1h-1zM154 150h1v1h-1zM147 143h1v1h-1zM143 147h1v1h-1zM151 147h1v1h-1zM148 144h1v1h-1zM144 148h1v1h-1zM152 148h1v1h-1zM149 145h1v1h-1zM145 149h1v1h-1zM152 149h1v1h-1zM171 149h1v1h-1zM146 151h2v1h-2zM155 151h2v1h-2zM148 152h2v1h-2zM150 154h1v1h-1zM151 155h1v1h-1zM157 155h1v1h-1zM151 156h1v1h-1zM155 157h1v1h-1zM72 160h1v1h-1zM164 160h1v1h-1zM160 164h1v1h-1zM168 164h1v1h-1zM165 161h1v1h-1zM76 165h1v1h-1zM80 165h1v1h-1zM161 165h1v1h-1zM166 162h1v1h-1zM162 166h1v1h-1zM74 163h1v1h-1zM167 163h1v1h-1zM163 167h1v1h-1zM169 167h1v1h-1zM164 168h1v1h-1zM81 169h1v1h-1zM167 169h1v1h-1zM173 169h1v1h-1zM85 173h1v1h-1zM169 173h1v1h-1zM177 173h1v1h-1zM85 170h1v1h-1zM174 170h1v1h-1zM170 174h1v1h-1zM149 171h1v1h-1zM175 171h1v1h-1zM86 175h1v1h-1zM171 175h1v1h-1zM178 175h1v1h-1zM79 172h1v1h-1zM83 172h1v1h-1zM176 172h1v1h-1zM172 176h1v1h-1zM180 176h1v1h-1zM173 177h1v1h-1zM181 177h1v1h-1zM175 178h1v1h-1zM182 178h1v1h-1zM176 180h1v1h-1zM184 180h1v1h-1zM177 181h1v1h-1zM185 181h1v1h-1zM178 182h1v1h-1zM186 182h1v1h-1zM183 179h1v1h-1zM179 183h1v1h-1zM180 184h1v1h-1zM181 185h1v1h-1zM182 186h1v1h-1zM189 187h2v1h-2zM187 189h1v1h-1zM187 190h2v1h-2zM194 190h1v1h-1zM190 188h1v1h-1zM190 194h1v1h-1zM198 194h1v1h-1zM195 191h1v1h-1zM122 195h1v1h-1zM191 195h1v1h-1zM199 195h1v1h-1zM119 192h1v1h-1zM196 192h1v1h-1zM192 196h1v1h-1zM200 196h1v1h-1zM121 193h1v1h-1zM125 193h1v1h-1zM197 193h1v1h-1zM193 197h1v1h-1zM201 197h1v1h-1zM194 198h1v1h-1zM202 198h1v1h-1zM195 199h1v1h-1zM203 199h1v1h-1zM196 200h1v1h-1zM204 200h1v1h-1zM197 201h1v1h-1zM205 201h1v1h-1zM198 202h1v1h-1zM206 202h1v1h-1zM199 203h1v1h-1zM207 203h1v1h-1zM200 204h1v1h-1zM208 204h1v1h-1zM201 205h1v1h-1zM209 205h1v1h-1zM202 206h1v1h-1zM203 207h1v1h-1zM204 208h1v1h-1zM205 209h1v1h-1zM229 209h1v1h-1zM214 212h1v1h-1zM212 214h1v1h-1zM216 214h1v1h-1zM215 213h2v1h-2zM213 215h1v1h-1zM213 216h2v1h-2zM220 217h1v1h-1zM217 220h1v1h-1zM222 218h1v1h-1zM218 222h1v1h-1zM228 224h1v1h-1zM224 228h1v1h-1zM232 228h1v1h-1zM229 225h1v1h-1zM209 229h1v1h-1zM225 229h1v1h-1zM233 229h1v1h-1zM230 226h1v1h-1zM226 230h1v1h-1zM234 230h1v1h-1zM231 227h1v1h-1zM227 231h1v1h-1zM228 232h1v1h-1zM229 233h1v1h-1zM230 234h1v1h-1zM239 237h2v1h-2zM237 239h1v1h-1zM237 240h2v1h-2zM240 238h1v1h-1zM248 244h1v1h-1zM244 248h1v1h-1zM249 245h1v1h-1zM245 249h1v1h-1zM131 246h1v1h-1zM250 246h1v1h-1zM246 250h1v1h-1zM253 247h2v1h-2zM247 253h1v1h-1zM251 253h1v1h-1zM247 254h1v1h-1zM256 254h1v1h-1zM253 251h1v1h-1zM254 256h1v1h-1zM265 263h1v1h-1zM263 265h1v1h-1zM130 243h1v1h-1z"/>
<path fill="#00eefa" d="M5 0h1v1h-1zM0 5h1v1h-1zM10 5h1v1h-1zM32 5h1v1h-1zM6 1h1v1h-1zM1 6h1v1h-1zM11 6h1v1h-1zM7 2h2v1h-2zM2 7h1v1h-1zM2 8h2v1h-2zM11 8h1v1h-1zM8 3h1v1h-1zM9 4h1v1h-1zM4 9h1v1h-1zM5 10h1v1h-1zM13 10h1v1h-1zM6 11h1v1h-1zM8 11h1v1h-1zM13 11h1v1h-1zM10 13h2v1h-2zM16 13h1v1h-1zM13 16h1v1h-1zM24 22h1v1h-1zM22 24h1v1h-1zM31 26h1v1h-1zM26 31h1v1h-1zM36 31h1v1h-1zM32 27h1v1h-1zM5 32h1v1h-1zM27 32h1v1h-1zM37 32h1v1h-1zM33 28h2v1h-2zM28 33h1v1h-1zM38 33h1v1h-1zM95 33h1v1h-1zM28 34h2v1h-2zM39 34h2v1h-2zM87 34h1v1h-1zM90 34h2v1h-2zM34 29h1v1h-1zM95 29h1v1h-1zM35 30h1v1h-1zM30 35h1v1h-1zM40 35h1v1h-1zM31 36h1v1h-1zM41 36h1v1h-1zM32 37h1v1h-1zM42 37h1v1h-1zM33 38h1v1h-1zM43 38h1v1h-1zM80 38h1v1h-1zM83 38h1v1h-1zM86 38h2v1h-2zM34 39h1v1h-1zM44 39h1v1h-1zM83 39h1v1h-1zM34 40h2v1h-2zM45 40h1v1h-1zM36 41h1v1h-1zM46 41h1v1h-1zM37 42h1v1h-1zM47 42h1v1h-1zM76 42h1v1h-1zM38 43h1v1h-1zM48 43h2v1h-2zM39 44h1v1h-1zM49 44h1v1h-1zM40 45h1v1h-1zM50 45h1v1h-1zM41 46h1v1h-1zM51 46h1v1h-1zM76 46h1v1h-1zM42 47h1v1h-1zM52 47h1v1h-1zM43 48h1v1h-1zM53 48h1v1h-1zM43 49h2v1h-2zM50 49h1v1h-1zM54 49h1v1h-1zM72 49h1v1h-1zM45 50h1v1h-1zM49 50h1v1h-1zM55 50h1v1h-1zM72 50h1v1h-1zM46 51h1v1h-1zM56 51h1v1h-1zM47 52h1v1h-1zM48 53h1v1h-1zM72 53h1v1h-1zM49 54h1v1h-1zM57 54h1v1h-1zM50 55h1v1h-1zM51 56h1v1h-1zM54 57h1v1h-1zM61 58h1v1h-1zM58 61h2v1h-2zM61 59h1v1h-1zM63 60h1v1h-1zM60 63h1v1h-1zM66 63h1v1h-1zM63 66h2v1h-2zM66 64h2v1h-2zM64 67h2v1h-2zM67 65h1v1h-1zM71 68h1v1h-1zM68 71h1v1h-1zM76 71h1v1h-1zM74 69h1v1h-1zM69 74h1v1h-1zM79 74h1v1h-1zM75 70h1v1h-1zM70 75h1v1h-1zM80 75h1v1h-1zM165 75h1v1h-1zM42 76h1v1h-1zM46 76h1v1h-1zM71 76h1v1h-1zM81 76h2v1h-2zM49 72h2v1h-2zM53 72h1v1h-1zM77 72h1v1h-1zM72 77h1v1h-1zM82 77h1v1h-1zM78 73h2v1h-2zM73 78h1v1h-1zM166 78h2v1h-2zM73 79h2v1h-2zM84 79h1v1h-1zM38 80h1v1h-1zM75 80h1v1h-1zM76 81h1v1h-1zM86 81h1v1h-1zM76 82h2v1h-2zM168 82h1v1h-1zM79 84h1v1h-1zM38 86h1v1h-1zM81 86h1v1h-1zM91 86h1v1h-1zM38 83h2v1h-2zM88 83h1v1h-1zM83 88h1v1h-1zM34 91h1v1h-1zM86 91h1v1h-1zM96 91h2v1h-2zM34 87h1v1h-1zM38 87h1v1h-1zM92 87h1v1h-1zM87 92h1v1h-1zM97 92h1v1h-1zM94 89h1v1h-1zM89 94h1v1h-1zM99 94h1v1h-1zM180 94h1v1h-1zM34 90h1v1h-1zM95 90h1v1h-1zM173 90h1v1h-1zM180 90h1v1h-1zM29 95h1v1h-1zM33 95h1v1h-1zM90 95h1v1h-1zM91 96h1v1h-1zM91 97h2v1h-2zM98 93h1v1h-1zM180 93h1v1h-1zM93 98h1v1h-1zM94 99h1v1h-1zM110 107h1v1h-1zM189 107h1v1h-1zM107 110h3v1h-3zM110 108h1v1h-1zM110 109h1v1h-1zM114 112h1v1h-1zM112 114h1v1h-1zM120 115h1v1h-1zM115 120h1v1h-1zM125 120h1v1h-1zM121 116h1v1h-1zM116 121h1v1h-1zM126 121h1v1h-1zM122 117h2v1h-2zM117 122h1v1h-1zM127 122h2v1h-2zM188 122h1v1h-1zM117 123h2v1h-2zM128 123h1v1h-1zM123 118h2v1h-2zM118 124h2v1h-2zM129 124h1v1h-1zM124 119h1v1h-1zM120 125h1v1h-1zM130 125h2v1h-2zM121 126h1v1h-1zM122 127h1v1h-1zM132 127h1v1h-1zM122 128h2v1h-2zM133 128h1v1h-1zM124 129h1v1h-1zM134 129h1v1h-1zM178 129h1v1h-1zM125 130h1v1h-1zM135 130h1v1h-1zM125 131h1v1h-1zM136 131h1v1h-1zM243 131h1v1h-1zM247 131h1v1h-1zM127 132h1v1h-1zM137 132h1v1h-1zM175 132h1v1h-1zM128 133h1v1h-1zM138 133h1v1h-1zM242 133h1v1h-1zM129 134h1v1h-1zM139 134h1v1h-1zM130 135h1v1h-1zM140 135h1v1h-1zM239 135h2v1h-2zM131 136h1v1h-1zM141 136h1v1h-1zM175 136h1v1h-1zM132 137h1v1h-1zM133 138h1v1h-1zM134 139h1v1h-1zM135 140h1v1h-1zM143 140h1v1h-1zM136 141h1v1h-1zM140 143h1v1h-1zM148 143h1v1h-1zM143 148h1v1h-1zM149 144h1v1h-1zM144 149h1v1h-1zM151 149h1v1h-1zM149 151h1v1h-1zM160 156h1v1h-1zM163 156h1v1h-1zM156 160h2v1h-2zM162 160h2v1h-2zM160 157h1v1h-1zM163 157h1v1h-1zM156 163h2v1h-2zM160 163h2v1h-2zM165 163h1v1h-1zM160 162h2v1h-2zM162 161h2v1h-2zM204 161h1v1h-1zM75 165h1v1h-1zM163 165h1v1h-1zM78 167h1v1h-1zM153 167h1v1h-1zM170 167h1v1h-1zM167 170h2v1h-2zM175 170h1v1h-1zM82 168h1v1h-1zM170 168h1v1h-1zM174 169h1v1h-1zM169 174h1v1h-1zM132 175h1v1h-1zM136 175h1v1h-1zM170 175h1v1h-1zM176 171h1v1h-1zM171 176h1v1h-1zM90 173h1v1h-1zM178 173h1v1h-1zM129 178h1v1h-1zM173 178h1v1h-1zM181 178h1v1h-1zM178 181h1v1h-1zM182 179h1v1h-1zM179 182h1v1h-1zM190 183h1v1h-1zM105 190h1v1h-1zM183 190h1v1h-1zM192 190h1v1h-1zM195 190h2v1h-2zM190 192h1v1h-1zM197 192h1v1h-1zM190 195h1v1h-1zM200 195h1v1h-1zM190 196h2v1h-2zM201 196h1v1h-1zM196 191h1v1h-1zM192 197h1v1h-1zM202 197h2v1h-2zM198 193h1v1h-1zM193 198h1v1h-1zM203 198h1v1h-1zM199 194h2v1h-2zM194 199h1v1h-1zM204 199h1v1h-1zM194 200h2v1h-2zM205 200h1v1h-1zM196 201h1v1h-1zM206 201h1v1h-1zM197 202h1v1h-1zM207 202h1v1h-1zM197 203h2v1h-2zM208 203h1v1h-1zM161 204h1v1h-1zM199 204h1v1h-1zM200 205h1v1h-1zM201 206h1v1h-1zM202 207h1v1h-1zM210 207h1v1h-1zM203 208h1v1h-1zM207 210h1v1h-1zM219 214h1v1h-1zM214 219h1v1h-1zM224 219h1v1h-1zM219 224h1v1h-1zM211 225h1v1h-1zM230 225h1v1h-1zM225 230h1v1h-1zM232 230h1v1h-1zM231 226h1v1h-1zM226 231h1v1h-1zM232 227h1v1h-1zM227 232h1v1h-1zM230 232h1v1h-1zM233 228h1v1h-1zM228 233h1v1h-1zM235 233h2v1h-2zM234 229h1v1h-1zM229 234h1v1h-1zM237 234h1v1h-1zM233 235h1v1h-1zM238 235h1v1h-1zM233 236h1v1h-1zM234 237h1v1h-1zM252 237h1v1h-1zM255 237h1v1h-1zM235 238h1v1h-1zM252 238h1v1h-1zM133 242h1v1h-1zM247 242h1v1h-1zM131 247h1v1h-1zM242 247h1v1h-1zM131 243h1v1h-1zM245 243h1v1h-1zM243 245h1v1h-1zM250 245h1v1h-1zM220 244h1v1h-1zM249 244h1v1h-1zM244 249h1v1h-1zM245 250h1v1h-1zM237 255h1v1h-1zM258 255h1v1h-1zM255 258h2v1h-2zM258 256h1v1h-1zM267 265h1v1h-1zM265 267h1v1h-1zM283 280h1v1h-1zM280 283h2v1h-2zM283 281h2v1h-2zM281 284h2v1h-2zM284 282h1v1h-1zM294 291h1v1h-1zM291 294h1v1h-1zM166 153h2v1h-2zM78 166h1v1h-1zM153 166h1v1h-1zM225 211h1v1h-1zM240 223h1v1h-1zM135 240h1v1h-1zM223 240h1v1h-1zM244 220h1v1h-1zM237 252h2v1h-2zM90 180h1v1h-1zM93 180h2v1h-2zM104 189h1v1h-1zM107 189h1v1h-1zM190 105h1v1h-1zM189 104h1v1h-1zM122 188h1v1h-1zM135 239h1v1h-1z"/>
<path fill="#38a8d8" d="M11 9h1v1h-1zM9 11h1v1h-1zM27 21h1v1h-1zM21 27h1v1h-1zM101 97h1v1h-1zM97 101h2v1h-2zM29 98h1v1h-1zM100 98h3v1h-3zM98 100h1v1h-1zM98 102h1v1h-1zM162 158h1v1h-1zM158 162h1v1h-1zM188 184h1v1h-1zM184 188h1v1h-1zM218 214h1v1h-1zM214 218h1v1h-1zM236 232h1v1h-1zM232 236h1v1h-1zM134 240h1v1h-1zM137 240h1v1h-1zM246 240h2v1h-2zM240 246h1v1h-1zM242 246h1v1h-1zM238 247h4v1h-4zM134 241h1v1h-1zM247 241h1v1h-1zM222 242h2v1h-2zM246 242h1v1h-1zM251 248h2v1h-2zM248 251h1v1h-1zM134 252h1v1h-1zM138 252h1v1h-1zM248 252h1v1h-1zM166 152h2v1h-2zM152 166h1v1h-1zM150 167h1v1h-1zM152 167h1v1h-1zM167 150h2v1h-2zM150 168h1v1h-1zM242 223h3v1h-3zM221 243h3v1h-3zM221 244h3v1h-3zM242 222h3v1h-3zM243 221h2v1h-2zM253 231h2v1h-2zM227 253h1v1h-1zM231 253h1v1h-1zM231 254h1v1h-1zM253 227h1v1h-1zM256 227h1v1h-1zM227 256h1v1h-1zM134 239h1v1h-1zM137 239h1v1h-1zM141 239h1v1h-1zM247 239h1v1h-1zM137 238h1v1h-1zM247 238h1v1h-1zM84 38h1v1h-1zM38 84h1v1h-1zM88 34h1v1h-1zM34 88h1v1h-1zM4 33h1v1h-1zM8 33h1v1h-1zM94 33h1v1h-1zM33 94h1v1h-1zM92 30h1v1h-1zM30 92h1v1h-1zM4 29h2v1h-2zM98 29h1v1h-1zM32 12h1v1h-1zM4 32h1v1h-1zM12 32h1v1h-1zM33 8h1v1h-1zM36 8h1v1h-1zM4 36h1v1h-1zM8 36h1v1h-1zM29 5h1v1h-1zM29 4h1v1h-1zM32 4h2v1h-2zM36 4h1v1h-1zM175 133h1v1h-1zM133 175h1v1h-1zM177 132h2v1h-2zM132 177h1v1h-1zM132 178h1v1h-1zM179 129h1v1h-1zM129 179h1v1h-1zM239 141h1v1h-1zM252 138h1v1h-1zM238 137h3v1h-3zM239 134h3v1h-3zM252 134h1v1h-1zM205 161h1v1h-1zM161 205h1v1h-1z"/>
<path fill="#ffa200" d="M14 11h1v1h-1zM11 14h1v1h-1zM15 12h1v1h-1zM12 15h1v1h-1zM18 16h1v1h-1zM16 18h1v1h-1zM21 18h1v1h-1zM20 17h1v1h-1zM17 20h1v1h-1zM22 20h1v1h-1zM18 21h2v1h-2zM24 21h1v1h-1zM21 19h2v1h-2zM19 22h2v1h-2zM21 24h1v1h-1zM26 24h1v1h-1zM25 23h1v1h-1zM23 25h1v1h-1zM24 26h1v1h-1zM56 53h1v1h-1zM53 56h1v1h-1zM58 56h2v1h-2zM58 54h1v1h-1zM54 58h1v1h-1zM56 58h1v1h-1zM60 58h1v1h-1zM56 59h1v1h-1zM60 57h1v1h-1zM57 60h2v1h-2zM63 61h2v1h-2zM61 63h1v1h-1zM65 63h1v1h-1zM61 64h2v1h-2zM64 62h2v1h-2zM62 65h2v1h-2zM68 66h1v1h-1zM66 68h1v1h-1zM70 68h1v1h-1zM69 67h1v1h-1zM67 69h1v1h-1zM68 70h1v1h-1zM83 78h1v1h-1zM168 78h1v1h-1zM42 83h1v1h-1zM78 83h1v1h-1zM165 83h1v1h-1zM169 83h1v1h-1zM87 82h1v1h-1zM169 82h2v1h-2zM172 82h2v1h-2zM82 87h1v1h-1zM173 87h1v1h-1zM101 96h1v1h-1zM96 101h1v1h-1zM99 101h1v1h-1zM103 101h2v1h-2zM102 97h2v1h-2zM97 102h1v1h-1zM99 102h2v1h-2zM104 102h2v1h-2zM97 103h1v1h-1zM100 103h2v1h-2zM105 103h2v1h-2zM101 99h2v1h-2zM102 100h2v1h-2zM101 104h2v1h-2zM106 104h1v1h-1zM190 104h1v1h-1zM102 105h2v1h-2zM107 105h2v1h-2zM189 105h1v1h-1zM103 106h2v1h-2zM109 106h1v1h-1zM189 106h1v1h-1zM105 107h1v1h-1zM109 107h1v1h-1zM105 108h1v1h-1zM111 108h1v1h-1zM106 109h2v1h-2zM111 109h1v1h-1zM108 111h2v1h-2zM112 110h1v1h-1zM110 112h1v1h-1zM119 114h1v1h-1zM114 119h1v1h-1zM144 139h2v1h-2zM139 144h1v1h-1zM139 145h2v1h-2zM142 140h1v1h-1zM145 140h1v1h-1zM140 142h1v1h-1zM146 142h1v1h-1zM143 141h1v1h-1zM146 141h1v1h-1zM141 143h1v1h-1zM146 143h1v1h-1zM141 146h3v1h-3zM152 147h1v1h-1zM147 152h1v1h-1zM150 152h1v1h-1zM151 148h1v1h-1zM148 151h1v1h-1zM152 150h1v1h-1zM170 150h2v1h-2zM156 153h1v1h-1zM163 153h1v1h-1zM153 156h2v1h-2zM159 156h1v1h-1zM156 154h1v1h-1zM166 154h1v1h-1zM156 159h2v1h-2zM161 159h1v1h-1zM159 157h1v1h-1zM160 158h1v1h-1zM158 160h1v1h-1zM159 161h1v1h-1zM166 164h2v1h-2zM80 166h1v1h-1zM154 166h1v1h-1zM164 166h1v1h-1zM168 166h2v1h-2zM164 167h2v1h-2zM172 167h1v1h-1zM79 165h1v1h-1zM83 165h1v1h-1zM167 165h2v1h-2zM78 168h2v1h-2zM81 168h1v1h-1zM165 168h2v1h-2zM79 169h1v1h-1zM82 169h2v1h-2zM86 169h1v1h-1zM166 169h1v1h-1zM81 172h2v1h-2zM85 172h1v1h-1zM167 172h1v1h-1zM177 172h1v1h-1zM172 177h1v1h-1zM174 177h2v1h-2zM180 177h1v1h-1zM177 174h1v1h-1zM177 175h1v1h-1zM86 176h1v1h-1zM89 176h2v1h-2zM178 176h2v1h-2zM176 178h1v1h-1zM183 178h1v1h-1zM176 179h1v1h-1zM184 179h1v1h-1zM193 179h1v1h-1zM197 179h1v1h-1zM177 180h1v1h-1zM178 183h1v1h-1zM186 183h2v1h-2zM189 183h1v1h-1zM193 183h1v1h-1zM179 184h1v1h-1zM186 181h1v1h-1zM181 186h1v1h-1zM183 186h1v1h-1zM125 187h1v1h-1zM183 187h1v1h-1zM185 187h1v1h-1zM193 187h1v1h-1zM105 189h2v1h-2zM118 189h1v1h-1zM183 189h1v1h-1zM194 189h1v1h-1zM179 193h1v1h-1zM183 193h1v1h-1zM187 193h2v1h-2zM187 185h2v1h-2zM117 188h2v1h-2zM125 188h1v1h-1zM185 188h1v1h-1zM191 188h1v1h-1zM193 188h1v1h-1zM188 191h1v1h-1zM189 194h1v1h-1zM209 207h1v1h-1zM207 209h1v1h-1zM211 209h2v1h-2zM226 209h1v1h-1zM210 208h1v1h-1zM208 210h1v1h-1zM212 210h2v1h-2zM225 210h2v1h-2zM209 211h1v1h-1zM213 211h1v1h-1zM226 211h1v1h-1zM209 212h2v1h-2zM210 213h2v1h-2zM217 214h1v1h-1zM214 217h1v1h-1zM219 217h1v1h-1zM219 215h1v1h-1zM215 219h3v1h-3zM222 219h2v1h-2zM219 216h1v1h-1zM220 218h2v1h-2zM218 220h1v1h-1zM218 221h1v1h-1zM245 221h1v1h-1zM219 222h1v1h-1zM225 222h1v1h-1zM227 222h1v1h-1zM219 223h1v1h-1zM225 223h1v1h-1zM210 225h1v1h-1zM222 225h2v1h-2zM222 227h1v1h-1zM229 224h1v1h-1zM224 229h1v1h-1zM238 231h1v1h-1zM231 238h1v1h-1zM236 238h1v1h-1zM237 235h1v1h-1zM235 237h1v1h-1zM238 236h2v1h-2zM236 239h1v1h-1zM242 239h1v1h-1zM252 239h1v1h-1zM126 242h1v1h-1zM130 242h1v1h-1zM134 242h1v1h-1zM239 242h2v1h-2zM245 242h1v1h-1zM242 240h1v1h-1zM221 245h1v1h-1zM242 245h1v1h-1zM253 244h1v1h-1zM244 253h1v1h-1zM255 253h2v1h-2zM251 246h2v1h-2zM246 251h2v1h-2zM254 251h1v1h-1zM239 252h1v1h-1zM246 252h2v1h-2zM250 252h1v1h-1zM254 252h2v1h-2zM251 247h2v1h-2zM252 250h1v1h-1zM251 254h2v1h-2zM252 255h2v1h-2zM257 255h1v1h-1zM253 256h1v1h-1zM255 257h1v1h-1zM260 258h1v1h-1zM258 260h1v1h-1zM262 260h1v1h-1zM261 259h2v1h-2zM259 261h1v1h-1zM259 262h2v1h-2zM265 262h1v1h-1zM262 265h1v1h-1zM282 280h1v1h-1zM280 282h1v1h-1zM293 291h1v1h-1zM291 293h1v1h-1zM294 292h1v1h-1zM292 294h1v1h-1zM153 163h1v1h-1zM82 170h1v1h-1zM150 170h1v1h-1zM150 171h1v1h-1zM179 197h1v1h-1zM209 226h3v1h-3zM76 49h1v1h-1zM162 49h1v1h-1zM45 76h1v1h-1zM49 76h1v1h-1zM162 76h1v1h-1zM79 46h1v1h-1zM42 79h1v1h-1zM46 79h1v1h-1zM165 79h1v1h-1zM168 79h2v1h-2zM76 45h1v1h-1zM80 45h1v1h-1zM162 45h1v1h-1zM41 80h1v1h-1zM45 80h1v1h-1zM166 80h1v1h-1zM79 42h1v1h-1zM83 42h1v1h-1zM80 41h1v1h-1zM84 37h1v1h-1zM88 37h1v1h-1zM37 84h1v1h-1zM33 88h1v1h-1zM37 88h1v1h-1zM7 33h1v1h-1zM88 33h1v1h-1zM31 8h1v1h-1zM8 31h1v1h-1zM33 7h1v1h-1zM45 162h1v1h-1zM49 162h1v1h-1zM76 162h1v1h-1zM168 81h1v1h-1zM172 81h1v1h-1zM82 173h1v1h-1zM86 173h2v1h-2zM172 85h1v1h-1zM169 86h1v1h-1zM173 86h1v1h-1zM176 86h1v1h-1zM176 89h1v1h-1zM176 90h1v1h-1zM104 190h1v1h-1zM196 126h1v1h-1zM200 126h1v1h-1zM242 126h1v1h-1zM122 196h1v1h-1zM125 196h2v1h-2zM126 200h1v1h-1zM187 125h2v1h-2zM196 125h1v1h-1zM196 122h1v1h-1zM192 121h1v1h-1zM121 192h1v1h-1zM188 118h2v1h-2zM188 117h1v1h-1zM242 134h1v1h-1zM242 130h1v1h-1zM243 127h1v1h-1zM127 243h1v1h-1zM205 48h1v1h-1zM48 205h1v1h-1z"/>
<path fill="#ff3c00" d="M225 207h1v1h-1zM207 225h1v1h-1zM189 121h1v1h-1zM121 189h1v1h-1z"/>
<path fill="#4280c0" d="M90 33h1v1h-1zM33 90h1v1h-1zM8 29h1v1h-1zM94 29h1v1h-1zM29 94h1v1h-1zM35 11h1v1h-1zM7 35h1v1h-1zM11 35h1v1h-1zM29 8h1v1h-1zM32 7h1v1h-1zM35 7h1v1h-1zM7 32h1v1h-1zM176 133h1v1h-1zM133 176h1v1h-1z"/>
</g>
<rect x="202.00" y="119.48" width="1637.02" height="1637.02" fill="none" stroke="#000" stroke-width="5.9" stroke-linejoin="round"/>
<path d="M473.10 1756.50V1762.00M473.10 119.48V114.00M202.00 1485.49H196.40M1839.02 1485.49H1844.30M746.85 1756.50V1762.00M746.85 119.48V114.00M202.00 1211.74H196.40M1839.02 1211.74H1844.30M1020.60 1756.50V1762.00M1020.60 119.48V114.00M202.00 937.99H196.40M1839.02 937.99H1844.30M1294.35 1756.50V1762.00M1294.35 119.48V114.00M202.00 664.24H196.40M1839.02 664.24H1844.30M1568.10 1756.50V1762.00M1568.10 119.48V114.00M202.00 390.49H196.40M1839.02 390.49H1844.30" stroke="#000" stroke-width="5.6" stroke-linecap="round" fill="none"/>
<text x="473.10" y="1811.5" font-size="62" text-anchor="middle">50</text>
<text x="192" y="1507.29" font-size="62" text-anchor="end">50</text>
<text x="746.85" y="1811.5" font-size="62" text-anchor="middle">100</text>
<text x="192" y="1233.54" font-size="62" text-anchor="end">100</text>
<text x="1020.60" y="1811.5" font-size="62" text-anchor="middle">150</text>
<text x="192" y="959.79" font-size="62" text-anchor="end">150</text>
<text x="1294.35" y="1811.5" font-size="62" text-anchor="middle">200</text>
<text x="192" y="686.04" font-size="62" text-anchor="end">200</text>
<text x="1568.10" y="1811.5" font-size="62" text-anchor="middle">250</text>
<text x="192" y="412.29" font-size="62" text-anchor="end">250</text>
<text x="1022.5" y="1867.8" font-size="60.5" text-anchor="middle">Residue index</text>
<text transform="translate(79.6 936.3) rotate(-90)" x="0" y="0" font-size="60.5" text-anchor="middle">Residue index</text>
<defs><linearGradient id="cb" x1="0" y1="0" x2="0" y2="1"><stop offset="0.0016" stop-color="#ffffff"/><stop offset="0.0624" stop-color="#ffffff"/><stop offset="0.0625" stop-color="#4a78c0"/><stop offset="0.2207" stop-color="#3a9ed2"/><stop offset="0.3802" stop-color="#28c4e4"/><stop offset="0.5610" stop-color="#00ffff"/><stop offset="0.5626" stop-color="#ffaa00"/><stop offset="0.6992" stop-color="#ff8400"/><stop offset="0.8135" stop-color="#ff5a00"/><stop offset="0.8140" stop-color="#ff4000"/><stop offset="0.8853" stop-color="#ff2800"/><stop offset="0.9810" stop-color="#f00800"/></linearGradient></defs>
<rect x="1862.6" y="119.48" width="11.4" height="1637.02" fill="url(#cb)" stroke="#000" stroke-width="5.9" stroke-linejoin="round"/>
<text x="1882.8" y="1629.54" font-size="48" >20</text>
<text x="1882.8" y="1455.46" font-size="48" >40</text>
<text x="1882.8" y="1281.38" font-size="48" >60</text>
<text x="1882.8" y="1107.30" font-size="48" >80</text>
<text x="1882.8" y="933.22" font-size="48" >100</text>
<text x="1882.8" y="759.14" font-size="48" >120</text>
<text x="1882.8" y="585.06" font-size="48" >140</text>
<text x="1882.8" y="410.98" font-size="48" >160</text>
<text x="1882.8" y="236.90" font-size="48" >180</text>
<path d="M1874.3 1612.24H1878.8M1874.3 1438.16H1878.8M1874.3 1264.08H1878.8M1874.3 1090.00H1878.8M1874.3 915.92H1878.8M1874.3 741.84H1878.8M1874.3 567.76H1878.8M1874.3 393.68H1878.8M1874.3 219.60H1878.8" stroke="#000" stroke-width="5.6" stroke-linecap="round" fill="none"/>
</svg></body></html>
